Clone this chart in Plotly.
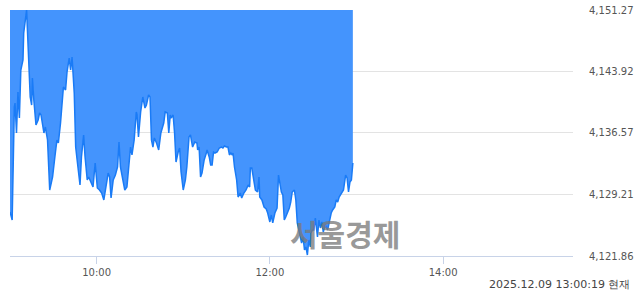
import pandas as pd
import plotly.graph_objects as go

# ---- data ----
session_open = "2025-12-09 09:00:00"
minutes_after_open = [
    0, 1.5, 3, 3.5, 4.5, 5.5, 6.5, 7.5, 9, 9.5,
    11.5, 12, 13, 14, 15, 15.5, 16.5, 18, 19.5, 20.5,
    21.5, 23.5, 24.5, 26, 27.5, 29.5, 31, 32.5, 33.5, 35,
    37, 38.5, 39.5, 41, 42, 43, 44.5, 45.5, 46.5, 48.5,
    49.5, 51, 52, 53.5, 54.5, 56, 57.5, 59, 60.5, 62,
    63.5, 65, 66.5, 68, 69, 70, 71.5, 73, 74.5, 75.5,
    76.5, 78, 79.5, 81, 82, 83.5, 84.5, 86, 87.5, 88,
    89, 90.5, 92, 93.5, 94.5, 96, 97, 98, 99, 100,
    101.5, 103, 104.5, 105.5, 106.5, 107.5, 109, 110, 111, 111.5,
    113, 114, 115, 116.5, 117.5, 118.5, 120, 121.5, 122.5, 124,
    125, 126.5, 128, 129.5, 130, 131, 132, 133, 134.5, 136,
    136.5, 138, 139, 140, 141, 142, 143.5, 145, 146.5, 147.5,
    148.5, 150, 151, 152, 153, 154, 154.5, 155.5, 157, 158,
    159.5, 160.5, 162, 163.5, 165, 166, 166.5, 167.5, 169, 170,
    171.5, 172.5, 173, 174.5, 176, 177.5, 178.5, 180, 181, 182,
    183.5, 185, 186, 187, 188, 189, 190, 191, 193.5, 194.5,
    195.5, 197, 198, 199, 200.5, 202, 203, 204, 205, 206,
    207, 208, 208.5, 209.5, 210.5, 211.5, 213, 214, 215, 216,
    217, 218.5, 220, 221, 222.5, 223.5, 225, 226, 227, 228,
    229.5, 231, 232.5, 233.5, 234.5, 235.5, 236.5, 237.5,
]
index_values = [
    4127.12, 4126.16, 4139.67, 4140.15, 4136.57, 4141.47, 4138.36, 4144.10, 4145.29, 4148.52,
    4151.27, 4149.24, 4144.46, 4140.87, 4139.91, 4143.14, 4140.51, 4137.52, 4138.12, 4138.96,
    4138.72, 4136.57, 4137.28, 4135.73, 4129.75, 4131.31, 4133.58, 4135.73, 4135.37, 4137.76,
    4142.06, 4141.71, 4143.86, 4145.53, 4144.10, 4145.65, 4141.35, 4134.89, 4133.34, 4130.35,
    4133.70, 4136.33, 4133.70, 4130.95, 4131.31, 4130.59, 4130.11, 4132.98, 4129.99, 4129.75,
    4129.39, 4128.56, 4130.11, 4131.78, 4131.31, 4128.79, 4130.95, 4131.54, 4132.50, 4135.49,
    4132.50, 4131.31, 4129.75, 4130.11, 4131.78, 4134.89, 4133.94, 4135.73, 4139.08, 4138.72,
    4136.09, 4139.08, 4140.87, 4139.55, 4139.91, 4141.11, 4140.87, 4135.73, 4134.89, 4135.97,
    4135.37, 4134.53, 4136.57, 4137.16, 4137.76, 4139.08, 4138.96, 4136.57, 4138.72, 4138.36,
    4138.72, 4136.57, 4133.10, 4134.29, 4134.77, 4131.90, 4129.75, 4130.95, 4132.50, 4136.09,
    4136.33, 4134.89, 4135.49, 4135.37, 4134.53, 4134.89, 4131.31, 4131.78, 4133.34, 4134.17,
    4134.53, 4133.70, 4132.74, 4132.74, 4134.29, 4134.17, 4134.29, 4134.77, 4134.89, 4134.77,
    4135.01, 4134.89, 4134.89, 4133.94, 4134.17, 4133.94, 4134.17, 4132.50, 4130.95, 4128.91,
    4129.39, 4128.79, 4129.39, 4129.75, 4130.35, 4130.11, 4132.38, 4132.38, 4130.95, 4129.75,
    4129.51, 4131.31, 4128.91, 4128.56, 4127.72, 4127.48, 4127.00, 4125.93, 4126.76, 4125.81,
    4127.00, 4127.60, 4131.54, 4130.71, 4129.51, 4129.15, 4126.16, 4126.52, 4127.60, 4128.32,
    4129.51, 4129.75, 4128.56, 4125.81, 4124.61, 4123.41, 4124.13, 4122.58, 4122.94, 4121.98,
    4123.77, 4122.94, 4124.61, 4124.97, 4124.97, 4126.40, 4124.13, 4126.16, 4125.21, 4125.93,
    4124.73, 4125.57, 4124.97, 4125.81, 4127.00, 4127.36, 4127.72, 4128.56, 4128.32, 4128.91,
    4129.39, 4129.75, 4131.54, 4131.19, 4129.51, 4130.71, 4130.95, 4132.98,
]
y_tick_values = [4121.86, 4129.21, 4136.57, 4143.92, 4151.27]
x_tick_labels = ["10:00", "12:00", "14:00"]
axis_start, axis_end = "2025-12-09 09:00:00", "2025-12-09 15:30:00"
watermark = "서울경제"
timestamp_text = "2025.12.09 13:00:19 현재"

assert len(minutes_after_open) == len(index_values)

times = pd.Timestamp(session_open) + pd.to_timedelta(minutes_after_open, unit="min")
top_value = y_tick_values[-1]

fig = go.Figure()
# upper boundary of the filled band
fig.add_trace(go.Scatter(
    x=times, y=[top_value] * len(times), mode="lines",
    line=dict(width=0, color="rgba(0,0,0,0)"), hoverinfo="skip", showlegend=False,
))
fig.add_trace(go.Scatter(
    x=times, y=index_values, mode="lines",
    line=dict(color="#1a7bf6", width=1.5),
    fill="tonexty", fillcolor="#4494fd", showlegend=False,
))

tick_times = [pd.Timestamp("2025-12-09 " + t) for t in x_tick_labels]
label_font = "DejaVu Sans, Verdana, sans-serif"

fig.update_layout(
    width=640, height=294,
    margin=dict(l=10, r=67, t=10, b=38),
    paper_bgcolor="white", plot_bgcolor="white",
    font=dict(family=label_font, size=10, color="#555555"),
    xaxis=dict(
        type="date", range=[pd.Timestamp(axis_start), pd.Timestamp(axis_end)],
        tickvals=tick_times, ticktext=x_tick_labels,
        showgrid=False, zeroline=False,
        showline=True, linecolor="#c8d3e8", linewidth=1,
        ticks="outside", ticklen=7, tickcolor="#c8d3e8", tickwidth=1,
        tickfont=dict(family=label_font, size=10, color="#555555"),
        automargin=False,
    ),
    yaxis=dict(
        side="right", range=[y_tick_values[0], y_tick_values[-1]],
        tickvals=y_tick_values, tickformat=",.2f",
        showgrid=True, gridcolor="#e3e3e3", gridwidth=1,
        zeroline=False, showline=False,
        ticks="outside", ticklen=13, tickcolor="rgba(0,0,0,0)",
        tickfont=dict(family=label_font, size=10, color="#555555"),
        automargin=False,
    ),
    annotations=[
        dict(text=watermark, xref="paper", yref="paper",
             x=(345 - 10) / 563, y=(256 - 233) / 246,
             xanchor="center", yanchor="middle", showarrow=False,
             font=dict(family="Noto Sans CJK KR", size=30, color="rgba(120,120,120,0.75)",
                       weight="bold")),
        dict(text=timestamp_text, xref="paper", yref="paper",
             x=(632 - 10) / 563, y=(256 - 284) / 246,
             xanchor="right", yanchor="middle", showarrow=False,
             font=dict(family=label_font, size=11, color="#444444")),
    ],
)

fig.write_html("out.html")
